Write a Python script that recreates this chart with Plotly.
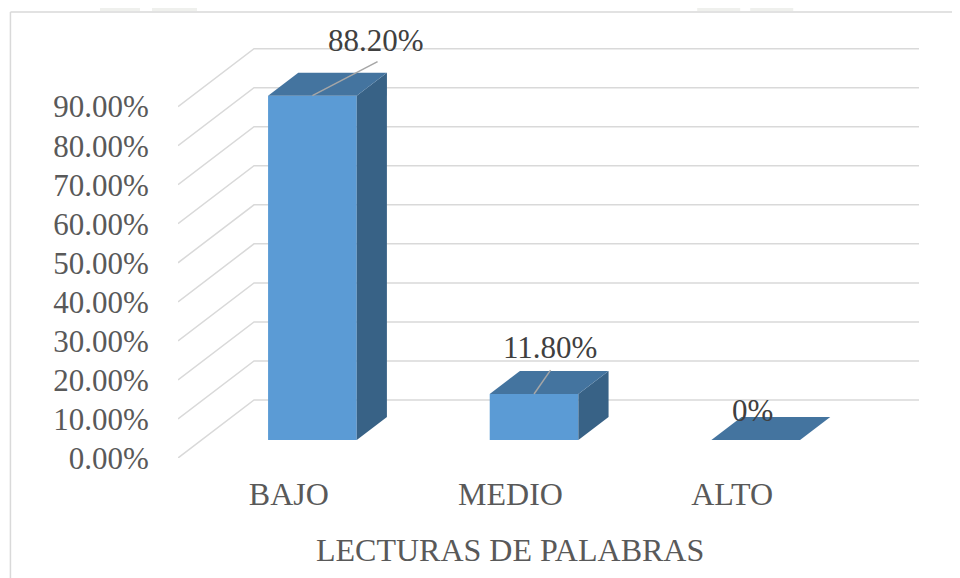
import plotly.graph_objects as go

categories = ["BAJO", "MEDIO", "ALTO"]
values = [88.2, 11.8, 0.0]
value_labels = ["88.20%", "11.80%", "0%"]
y_ticks = [0, 10, 20, 30, 40, 50, 60, 70, 80, 90]
y_tick_labels = ["0.00%", "10.00%", "20.00%", "30.00%", "40.00%",
                 "50.00%", "60.00%", "70.00%", "80.00%", "90.00%"]
x_title = "LECTURAS DE PALABRAS"

# moved data labels: offset from the front centre of the bar top (category units, value units)
label_dx = [0.285, 0.07, -0.013]
label_dy = [14.1, 11.8, 7.55]
# leader line ends, same units (the 0% label has none)
leader_dx = [0.294, 0.0745, None]
leader_dy = [8.7, 6.1, None]

# oblique projection of the depth axis
DEPTH_X = 0.343    # category units from front plane to back wall
DEPTH_Y = 14.85    # value units from front plane to back wall
BAR_WIDTH = 0.4
BAR_FRONT = 0.31   # depth fraction of bar front
BAR_BACK = 0.707   # depth fraction of bar back

GRID = "#d9d9d9"
FRONT = "#5b9bd5"
TOP = "#44749f"
SIDE = "#386286"
AXIS_TEXT = "#595959"
LABEL_TEXT = "#404040"
FONT = "Liberation Serif"

# the page body adds 8px round the figure
PAGE_MARGIN = 8
PLOT_LEFT, PLOT_RIGHT = 178, 918.7
PLOT_TOP, PLOT_BOTTOM = 9, 458


def paper_x(px):
    return (px - PLOT_LEFT) / (PLOT_RIGHT - PLOT_LEFT)


def paper_y(px):
    return (PLOT_BOTTOM - px) / (PLOT_BOTTOM - PLOT_TOP)


def project(cat, value, depth):
    return cat + DEPTH_X * depth, value + DEPTH_Y * depth


fig = go.Figure()

# left wall and back wall gridlines, under the bars
shapes = []
for v in y_ticks:
    x0, y0 = project(-0.5, v, 0)
    x1, y1 = project(-0.5, v, 1)
    x2, y2 = project(2.5, v, 1)
    shapes.append(dict(type="path", layer="below", xref="x", yref="y",
                       path=f"M {x0} {y0} L {x1} {y1} L {x2} {y2}",
                       line=dict(color=GRID, width=1.5)))

# chart border, only left and top reach inside the picture
border = dict(color="#d9d9d9", width=1.5)
shapes.append(dict(type="line", xref="paper", yref="paper", layer="below",
                   x0=paper_x(10.5), x1=paper_x(10.5), y0=paper_y(590), y1=paper_y(12), line=border))
shapes.append(dict(type="line", xref="paper", yref="paper", layer="below",
                   x0=paper_x(10.5), x1=paper_x(970), y0=paper_y(12), y1=paper_y(12), line=border))

# faint watermark that shows above the chart
for a, b in [(100, 140), (152, 197), (697, 740), (750, 793)]:
    shapes.append(dict(type="rect", xref="paper", yref="paper", layer="below",
                       x0=paper_x(a), x1=paper_x(b), y0=paper_y(11), y1=paper_y(0),
                       fillcolor="#eff0ed", line=dict(width=0)))

xs = list(range(len(categories)))
shift_f = DEPTH_X * BAR_FRONT
floor_f = DEPTH_Y * BAR_FRONT

fig.add_trace(go.Bar(
    x=[c + shift_f for c in xs], y=values, base=floor_f, width=BAR_WIDTH,
    marker=dict(color=FRONT, line=dict(width=0)), hoverinfo="skip"))

annotations = []
for i, (c, v) in enumerate(zip(xs, values)):
    left = c - BAR_WIDTH / 2
    right = c + BAR_WIDTH / 2
    # side face
    p = [project(right, 0, BAR_FRONT), project(right, 0, BAR_BACK),
         project(right, v, BAR_BACK), project(right, v, BAR_FRONT),
         project(right, 0, BAR_FRONT)]
    fig.add_trace(go.Scatter(x=[q[0] for q in p], y=[q[1] for q in p], mode="lines",
                             fill="toself", fillcolor=SIDE, line=dict(width=0),
                             hoverinfo="skip"))
    # top face
    p = [project(left, v, BAR_FRONT), project(right, v, BAR_FRONT),
         project(right, v, BAR_BACK), project(left, v, BAR_BACK),
         project(left, v, BAR_FRONT)]
    fig.add_trace(go.Scatter(x=[q[0] for q in p], y=[q[1] for q in p], mode="lines",
                             fill="toself", fillcolor=TOP, line=dict(width=0),
                             hoverinfo="skip"))
    ax, ay = project(c, v, BAR_FRONT)
    if leader_dx[i] is not None:
        fig.add_trace(go.Scatter(x=[ax, ax + leader_dx[i]], y=[ay, ay + leader_dy[i]],
                                 mode="lines", line=dict(color="#a6a6a6", width=1.5),
                                 hoverinfo="skip"))
    annotations.append(dict(x=ax + label_dx[i], y=ay + label_dy[i], xref="x", yref="y",
                            text=value_labels[i], showarrow=False,
                            xanchor="center", yanchor="middle",
                            font=dict(family=FONT, size=31, color=LABEL_TEXT)))

# axis title is centred on the front plane, not on the whole plot area
annotations.append(dict(x=1, y=paper_y(550), xref="x", yref="paper", text=x_title,
                        showarrow=False, xanchor="center", yanchor="middle",
                        font=dict(family=FONT, size=32, color=AXIS_TEXT)))

fig.update_layout(
    width=960 - PAGE_MARGIN, height=578 - PAGE_MARGIN,
    margin=dict(l=PLOT_LEFT - PAGE_MARGIN, r=960 - PLOT_RIGHT,
                t=PLOT_TOP - PAGE_MARGIN, b=578 - PLOT_BOTTOM, autoexpand=False),
    paper_bgcolor="white", plot_bgcolor="white",
    showlegend=False,
    shapes=shapes, annotations=annotations,
    font=dict(family=FONT, size=31, color=AXIS_TEXT),
    xaxis=dict(range=[-0.5, 2.5 + DEPTH_X], tickvals=xs, ticktext=categories,
               tickfont=dict(size=32),
               showgrid=False, zeroline=False, showline=False,
               ticks="outside", ticklen=8, tickcolor="rgba(0,0,0,0)"),
    yaxis=dict(range=[0, 115], tickvals=y_ticks, ticktext=y_tick_labels,
               showgrid=False, zeroline=False, showline=False,
               ticks="outside", ticklen=22, tickcolor="rgba(0,0,0,0)"),
)

fig.write_html("out.html")
